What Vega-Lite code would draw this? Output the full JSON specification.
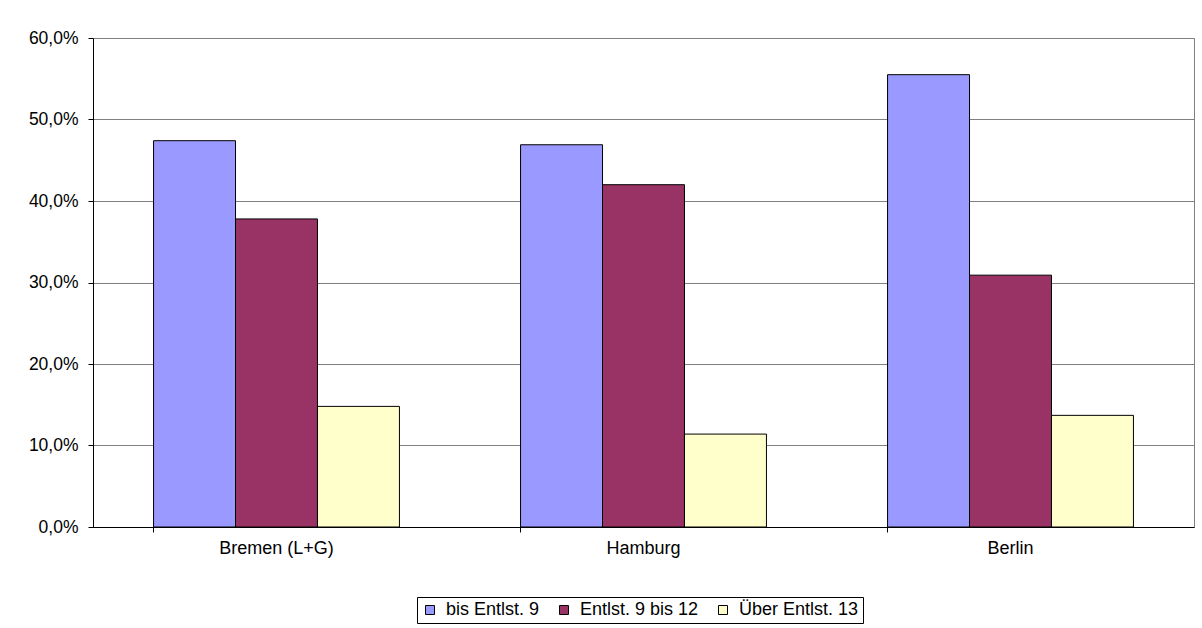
{
  "$schema": "https://vega.github.io/schema/vega-lite/v6.json",
  "autosize": "none",
  "width": 1101,
  "height": 489,
  "padding": {"left": 93, "top": 38, "right": 8, "bottom": 101},
  "background": "white",
  "data": {
    "values": [
      {"Land": "Bremen (L+G)", "Gruppe": "bis Entlst. 9", "Anteil": 0.474},
      {"Land": "Bremen (L+G)", "Gruppe": "Entlst. 9 bis 12", "Anteil": 0.378},
      {"Land": "Bremen (L+G)", "Gruppe": "Über Entlst. 13", "Anteil": 0.148},
      {"Land": "Hamburg", "Gruppe": "bis Entlst. 9", "Anteil": 0.469},
      {"Land": "Hamburg", "Gruppe": "Entlst. 9 bis 12", "Anteil": 0.420},
      {"Land": "Hamburg", "Gruppe": "Über Entlst. 13", "Anteil": 0.114},
      {"Land": "Berlin", "Gruppe": "bis Entlst. 9", "Anteil": 0.555},
      {"Land": "Berlin", "Gruppe": "Entlst. 9 bis 12", "Anteil": 0.309},
      {"Land": "Berlin", "Gruppe": "Über Entlst. 13", "Anteil": 0.137}
    ]
  },
  "mark": {"type": "bar", "stroke": "black", "strokeWidth": 1},
  "encoding": {
    "x": {
      "field": "Land",
      "type": "nominal",
      "sort": ["Bremen (L+G)", "Hamburg", "Berlin"],
      "scale": {"paddingInner": 0.33, "paddingOuter": 0.165},
      "axis": {
        "title": null,
        "labelAngle": 0,
        "ticks": true,
        "bandPosition": 0,
        "tickSize": 5,
        "tickColor": "black",
        "labelPadding": 7,
        "domainColor": "black",
        "labelFont": "Liberation Sans",
        "labelFontSize": 18,
        "labelColor": "black"
      }
    },
    "xOffset": {
      "field": "Gruppe",
      "type": "nominal",
      "sort": ["bis Entlst. 9", "Entlst. 9 bis 12", "Über Entlst. 13"],
      "scale": {"paddingInner": 0, "paddingOuter": 0}
    },
    "y": {
      "field": "Anteil",
      "type": "quantitative",
      "scale": {"domain": [0, 0.6], "nice": false},
      "axis": {
        "title": null,
        "values": [0, 0.1, 0.2, 0.3, 0.4, 0.5, 0.6],
        "labelExpr": "replace(format(datum.value, '.1%'), '.', ',')",
        "grid": true,
        "gridColor": "#808080",
        "gridOpacity": 1,
        "domainColor": "black",
        "tickColor": "black",
        "tickSize": 5,
        "labelPadding": 10,
        "labelFont": "Liberation Sans",
        "labelFontSize": 17.5,
        "labelColor": "black"
      }
    },
    "fill": {
      "field": "Gruppe",
      "type": "nominal",
      "sort": ["bis Entlst. 9", "Entlst. 9 bis 12", "Über Entlst. 13"],
      "scale": {"range": ["#9999FF", "#993366", "#FFFFCC"]},
      "legend": {
        "title": null,
        "orient": "none",
        "legendX": 324,
        "legendY": 559,
        "direction": "horizontal",
        "columns": 3,
        "symbolType": "square",
        "symbolSize": 81,
        "symbolStrokeColor": "black",
        "symbolStrokeWidth": 1,
        "labelFont": "Liberation Sans",
        "labelFontSize": 18,
        "labelColor": "black",
        "labelOffset": 7,
        "columnPadding": 15,
        "padding": 4,
        "strokeColor": "black",
        "fillColor": "white"
      }
    }
  },
  "config": {
    "view": {"stroke": "#808080"},
    "axis": {"domainWidth": 1}
  }
}
